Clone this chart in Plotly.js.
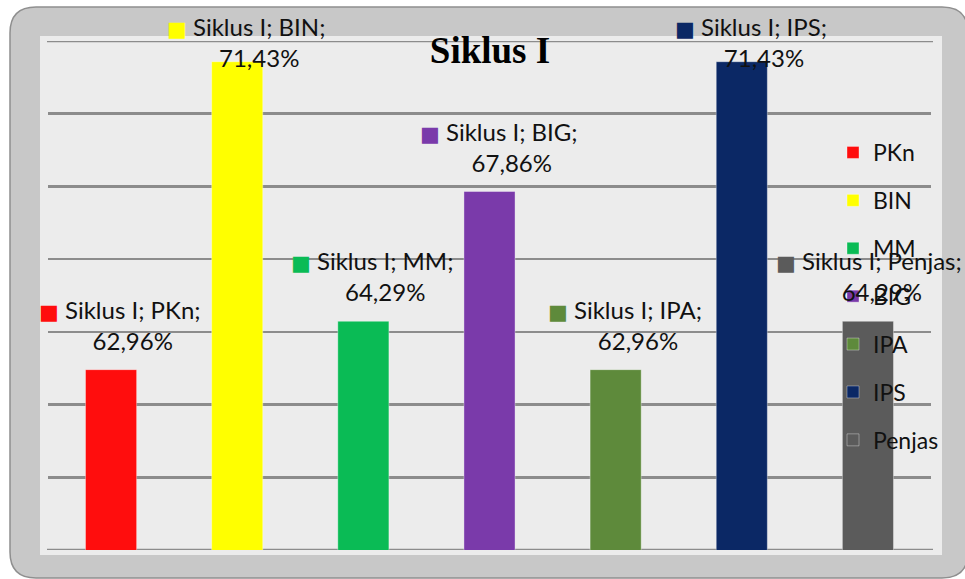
<!DOCTYPE html>
<html>
<head>
<meta charset="utf-8">
<script src="https://cdn.plot.ly/plotly-3.0.1.min.js"></script>
<style>html,body{margin:0;padding:0;background:#fff;}#chart{width:965px;height:579px;}</style>
</head>
<body>
<div id="chart"></div>
<script>
// ---- data ----
const seriesName = 'Siklus I';
const categories = ['PKn', 'BIN', 'MM', 'BIG', 'IPA', 'IPS', 'Penjas'];
const values = [62.96, 71.43, 64.29, 67.86, 62.96, 71.43, 64.29];
const colors = ['#ff0d0d', '#ffff00', '#0abb55', '#7a3aaa', '#5e8a3b', '#0b2865', '#5b5b5b'];
const yRange = [58, 72];

// ---- layout geometry ----
const W = 965, H = 579;
const M = {l: 48, r: 34, t: 41, b: 29};
const plotW = W - M.l - M.r, plotH = H - M.t - M.b;
const xp = px => (px - M.l) / plotW;
const yp = py => (H - M.b - py) / plotH;
const valToPx = v => (H - M.b) - (v - yRange[0]) / (yRange[1] - yRange[0]) * plotH;
const catToPx = i => M.l + (i + 0.5) * plotW / categories.length;

function roundRect(x0, y0, x1, y1, r) {
  const X0 = xp(x0), X1 = xp(x1), Yt = yp(y0), Yb = yp(y1);
  const rx = r / plotW, ry = r / plotH;
  return `M${X0 + rx},${Yt} L${X1 - rx},${Yt} Q${X1},${Yt} ${X1},${Yt - ry} L${X1},${Yb + ry} Q${X1},${Yb} ${X1 - rx},${Yb} L${X0 + rx},${Yb} Q${X0},${Yb} ${X0},${Yb + ry} L${X0},${Yt - ry} Q${X0},${Yt} ${X0 + rx},${Yt} Z`;
}

const labelFont = 'Lato, "DejaVu Sans", sans-serif';
const labelSize = 24;
const ctx = document.createElement('canvas').getContext('2d');
function textW(s, size, fam) { ctx.font = `${size}px ${fam}`; return ctx.measureText(s).width; }

const traces = categories.map((c, i) => ({
  type: 'bar',
  name: c,
  legendgroup: c,
  x: [c],
  y: [values[i]],
  width: 0.405,
  marker: {color: colors[i], line: {color: 'rgba(255,255,255,0.35)', width: 1}},
  hoverinfo: 'none'
}));

const fmt = v => v.toFixed(2).replace('.', ',') + '%';
const annotations = categories.map((c, i) => {
  const sq = `<span style="color:${colors[i]};font-size:21px">■</span> `;
  const pad = `<span style="color:rgba(0,0,0,0);font-size:21px">■</span> `;
  const barTop = valToPx(values[i]);
  let bottom = barTop - 13;
  const labelH = 64;
  if (bottom - labelH < 10) bottom = 10 + labelH;
  const line1 = `${seriesName}; ${c};`;
  const w = textW('■', 21, '"DejaVu Sans"') + textW(' ' + line1, labelSize, labelFont);
  let xshift = 9;
  const right = catToPx(i) + xshift + w / 2;
  if (right > 962) xshift -= (right - 962);
  return {
    x: c, y: values[i], xref: 'x', yref: 'y',
    text: `${sq}${line1}<br>${pad}${fmt(values[i])}`,
    showarrow: false, xanchor: 'center', yanchor: 'bottom', align: 'center',
    xshift: xshift, yshift: barTop - bottom,
    font: {family: labelFont, size: labelSize, color: '#111'}
  };
});

const gridColor = '#8c8c8c';
const shapes = [
  {type: 'path', xref: 'paper', yref: 'paper', layer: 'below', path: roundRect(10, 7, 968, 578, 26),
   fillcolor: '#c8c8c8', line: {color: '#8f8f8f', width: 1.5}},
  {type: 'rect', xref: 'paper', yref: 'paper', layer: 'below', x0: xp(40), x1: xp(942), y0: yp(555), y1: yp(36),
   fillcolor: '#ececec', line: {width: 0}}
].concat(yRange.map(v => ({
  type: 'line', xref: 'paper', yref: 'y', layer: 'below', x0: xp(47), x1: xp(933), y0: v, y1: v,
  line: {color: gridColor, width: 2.5}
})));

const layout = {
  width: W, height: H,
  margin: M,
  paper_bgcolor: '#ffffff',
  plot_bgcolor: 'rgba(0,0,0,0)',
  barmode: 'overlay',
  showlegend: true,
  title: {text: '<b>Siklus I</b>', font: {family: '"Liberation Serif", "Times New Roman", serif', size: 37, color: '#000'},
          xref: 'container', yref: 'container', x: 490 / W, xanchor: 'center', y: 1 - 50 / H, yanchor: 'middle'},
  xaxis: {type: 'category', range: [-0.5, categories.length - 0.5], showticklabels: false, showgrid: false,
          zeroline: false, showline: false, ticks: ''},
  yaxis: {range: yRange, dtick: 2, tick0: 58, showticklabels: false, showgrid: true,
          gridcolor: gridColor, gridwidth: 2.5, zeroline: false, showline: false, ticks: ''},
  legend: {x: xp(833), xanchor: 'left', y: yp(131), yanchor: 'top', bgcolor: 'rgba(0,0,0,0)',
           font: {family: labelFont, size: 23, color: '#111'}, tracegroupgap: 15, traceorder: 'grouped'},
  shapes: shapes,
  annotations: annotations
};

Plotly.newPlot('chart', traces, layout, {displayModeBar: false, staticPlot: true});
</script>
</body>
</html>
